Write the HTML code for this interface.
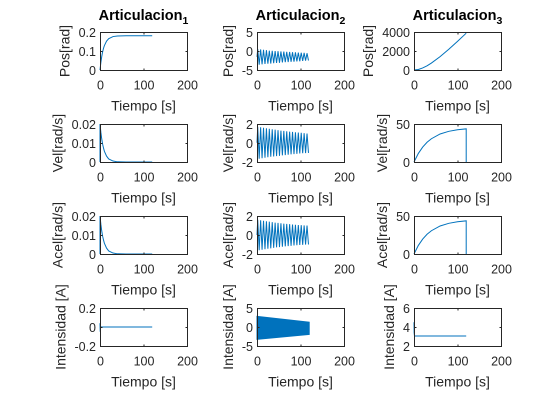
<!DOCTYPE html>
<html><head><meta charset="utf-8"><style>
html,body{margin:0;padding:0;background:#fff;}
svg{display:block;font-family:"Liberation Sans",Arial,sans-serif;}
</style></head><body>
<svg id="fig" width="560" height="420" viewBox="0 0 560 420" xmlns="http://www.w3.org/2000/svg">
<rect width="560" height="420" fill="#fff"/>
</svg>
<script>
// ---- data ----
const timeSmooth = [0,2,4,6,8,10,15,20,30,40,60,80,100,120];
const pos1 = [0,0.04,0.071,0.095,0.114,0.128,0.152,0.165,0.176,0.179,0.18,0.18,0.18,0.18];
const vel1 = [0.02,0.0156,0.0121,0.0094,0.0074,0.0057,0.0031,0.0016,0.0005,0.0001,0,0,0,0];
const acel1 = [0.02,0.0156,0.0121,0.0094,0.0074,0.0057,0.0031,0.0016,0.0005,0.0001,0,0,0,0];
const timeInt1 = [0,0.5,1,2,4,120];
const int1 = [0.04,-0.05,0.01,0,0,0];
const pos2Peaks = [0.5,0.4,0.3,0.2,0.1,0.05,0,-0.05,-0.1,-0.15,-0.2,-0.25,-0.3,-0.35,-0.4,-0.45,-0.5,-0.6];
const pos2Troughs = [-3.6,-3.5,-3.4,-3.35,-3.3,-3.2,-3.15,-3.1,-3.0,-2.95,-2.9,-2.85,-2.8,-2.75,-2.7,-2.6,-2.55,-2.5];
const vel2Peaks = [1.7,1.65,1.6,1.55,1.5,1.45,1.4,1.35,1.3,1.27,1.23,1.2,1.17,1.13,1.1,1.07,1.03,1.0];
const vel2Troughs = [-1.65,-1.6,-1.55,-1.5,-1.45,-1.42,-1.38,-1.35,-1.3,-1.27,-1.23,-1.2,-1.17,-1.14,-1.1,-1.08,-1.06,-1.05];
const acel2Peaks = [1.6,1.55,1.5,1.45,1.4,1.35,1.3,1.27,1.23,1.2,1.17,1.14,1.1,1.08,1.05,1.03,1.01,1.0];
const acel2Troughs = [-1.6,-1.55,-1.5,-1.45,-1.4,-1.35,-1.3,-1.27,-1.23,-1.2,-1.17,-1.14,-1.1,-1.08,-1.05,-1.03,-1.01,-1.0];
const timeEnv = [0,120];
const int2Upper = [2.8,1.25];
const int2Lower = [-3.25,-1.95];
const time3 = [0,10,20,30,40,60,80,100,120];
const pos3 = [0,55,215,440,729,1408,2186,3015,3875];
const time3v = [0,10,20,30,40,60,80,100,120,120];
const vel3 = [0,11.3,19.6,26.0,30.6,36.9,40.4,42.4,43.6,0];
const acel3 = [0,11.3,19.6,26.0,30.6,36.9,40.4,42.4,43.6,0];
const timeInt3 = [0,0.3,1,2,4,120];
const int3 = [4.5,3.4,3.1,3.05,3.05,3.05];
const xTicks = [0,100,200];
const xTickLabels = ['0','100','200'];

// ---- layout ----
const colX = [100,257,414], axW = 87;
const rowY = [32,124,216,308], axH = 38;
const BLUE = '#0072BD', AX = '#262626';
const svg = document.getElementById('fig');
const NS = 'http://www.w3.org/2000/svg';
function mk(tag, attrs, parent){const e=document.createElementNS(NS,tag);for(const k in attrs)e.setAttribute(k,attrs[k]);(parent||svg).appendChild(e);return e;}

function oscPoints(peaks, troughs){
  const n = peaks.length, T = 120/n, ts=[], vs=[];
  ts.push(0); vs.push((peaks[0]+troughs[0])/2);
  for(let k=0;k<n;k++){ts.push((k+0.25)*T);vs.push(peaks[k]);ts.push((k+0.75)*T);vs.push(troughs[k]);}
  return {ts,vs};
}

const panels = [
 {c:0,r:0,ylim:[0,0.2],yt:[0,0.1,0.2],ytl:['0','0.1','0.2'],yl:'Pos[rad]',name:'pos-joint1',lines:[[timeSmooth,pos1]]},
 {c:0,r:1,ylim:[0,0.02],yt:[0,0.01,0.02],ytl:['0','0.01','0.02'],yl:'Vel[rad/s]',name:'vel-joint1',lines:[[[0].concat(timeSmooth),[0].concat(vel1)]]},
 {c:0,r:2,ylim:[0,0.02],yt:[0,0.01,0.02],ytl:['0','0.01','0.02'],yl:'Acel[rad/s]',name:'acel-joint1',lines:[[[0].concat(timeSmooth),[0].concat(acel1)]]},
 {c:0,r:3,ylim:[-0.2,0.2],yt:[-0.2,0,0.2],ytl:['-0.2','0','0.2'],yl:'Intensidad [A]',name:'int-joint1',lines:[[timeInt1,int1]]},
 {c:1,r:0,ylim:[-5,5],yt:[-5,0,5],ytl:['-5','0','5'],yl:'Pos[rad]',name:'pos-joint2',osc:[pos2Peaks,pos2Troughs]},
 {c:1,r:1,ylim:[-2,2],yt:[-2,0,2],ytl:['-2','0','2'],yl:'Vel[rad/s]',name:'vel-joint2',osc:[vel2Peaks,vel2Troughs]},
 {c:1,r:2,ylim:[-2,2],yt:[-2,0,2],ytl:['-2','0','2'],yl:'Acel[rad/s]',name:'acel-joint2',osc:[acel2Peaks,acel2Troughs]},
 {c:1,r:3,ylim:[-5,5],yt:[-5,0,5],ytl:['-5','0','5'],yl:'Intensidad [A]',name:'int-joint2',band:[timeEnv,int2Upper,int2Lower]},
 {c:2,r:0,ylim:[0,4000],yt:[0,2000,4000],ytl:['0','2000','4000'],yl:'Pos[rad]',name:'pos-joint3',lines:[[time3,pos3]]},
 {c:2,r:1,ylim:[0,50],yt:[0,50],ytl:['0','50'],yl:'Vel[rad/s]',name:'vel-joint3',lines:[[time3v,vel3]]},
 {c:2,r:2,ylim:[0,50],yt:[0,50],ytl:['0','50'],yl:'Acel[rad/s]',name:'acel-joint3',lines:[[time3v,acel3]]},
 {c:2,r:3,ylim:[2,6],yt:[2,4,6],ytl:['2','4','6'],yl:'Intensidad [A]',name:'int-joint3',lines:[[timeInt3,int3]]},
];

panels.forEach(p=>{
  const L=colX[p.c], T=rowY[p.r];
  const g = mk('g',{});
  
  
  const xs = v => L + v/200*axW;
  const ys = v => T + axH - (v-p.ylim[0])/(p.ylim[1]-p.ylim[0])*axH;
  mk('rect',{x:L+0.5,y:T+0.5,width:axW,height:axH,fill:'#fff',stroke:'none'},g);
  if(p.lines) p.lines.forEach(([t,v])=>{
    const d = t.map((tt,i)=>(i?'L':'M')+xs(tt).toFixed(2)+','+ys(v[i]).toFixed(2)).join('');
    const e = mk('path',{d:d,fill:'none',stroke:BLUE,'stroke-width':1},g);
    
    
  });
  if(p.osc){
    const o = oscPoints(p.osc[0],p.osc[1]);
    const d = o.ts.map((tt,i)=>(i?'L':'M')+xs(tt).toFixed(2)+','+ys(o.vs[i]).toFixed(2)).join('');
    const e = mk('path',{d:d,fill:'none',stroke:BLUE,'stroke-width':1},g);
    
    
  }
  if(p.band){
    const [t,u,lo]=p.band;
    let d = t.map((tt,i)=>(i?'L':'M')+xs(tt)+','+ys(u[i])).join('');
    for(let i=t.length-1;i>=0;i--) d+='L'+xs(t[i])+','+ys(lo[i]);
    const e = mk('path',{d:d+'Z',fill:BLUE,stroke:BLUE,'stroke-width':1},g);
    
    
  }
  mk('rect',{x:L+0.5,y:T+0.5,width:axW,height:axH,fill:'none',stroke:AX,'stroke-width':1},g);
  xTicks.forEach((v,i)=>{
    const x=xs(v)+0.5;
    mk('line',{x1:x,x2:x,y1:T+axH+0.5,y2:T+axH-1.5,stroke:AX},g);
    mk('line',{x1:x,x2:x,y1:T+0.5,y2:T+2.5,stroke:AX},g);
    const tx = mk('text',{x:x,y:T+axH+19.5,'text-anchor':'middle','font-size':12.5,fill:AX},g);
    tx.textContent = xTickLabels[i];
    
    
  });
  let maxW=0;
  p.yt.forEach((v,i)=>{
    const y=ys(v)+0.5;
    mk('line',{x1:L+0.5,x2:L+2.5,y1:y,y2:y,stroke:AX},g);
    mk('line',{x1:L+axW+0.5,x2:L+axW-1.5,y1:y,y2:y,stroke:AX},g);
    const tx = mk('text',{x:L-4,y:y+4.5,'text-anchor':'end','font-size':12.5,fill:AX},g);
    tx.textContent = p.ytl[i];
    
    
    maxW=Math.max(maxW,tx.getComputedTextLength());
  });
  const lx = L-4-maxW-9, ly = T+axH/2;
  const yl = mk('text',{x:lx,y:ly,'text-anchor':'middle','font-size':14,fill:AX,transform:`rotate(-90 ${lx} ${ly})`},g);
  yl.textContent = p.yl;
  
  
  const xl = mk('text',{x:L+axW/2,y:T+axH+40.5,'text-anchor':'middle','font-size':14,fill:AX},g);
  xl.textContent = 'Tiempo [s]';
  
  
  if(p.r===0){
    const t = mk('text',{x:L+axW/2,y:20,'text-anchor':'middle','font-size':14.5,'font-weight':'bold',fill:'#000'},g);
    
    
    t.appendChild(document.createTextNode('Articulacion'));
    const s = document.createElementNS(NS,'tspan');
    s.setAttribute('font-size','10.5');
    s.setAttribute('dy','4');
    s.textContent = String(p.c+1);
    t.appendChild(s);
  }
});
</script>
</body></html>
